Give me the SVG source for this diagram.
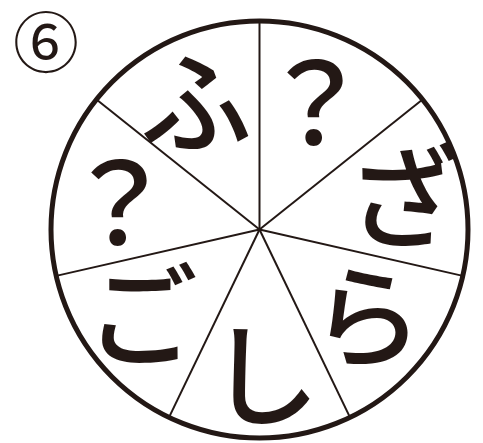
<svg xmlns="http://www.w3.org/2000/svg" width="483" height="443" viewBox="0 0 483 443">
<style>
.k{font-family:"Noto Sans CJK JP","Noto Sans CJK SC",sans-serif;font-size:112px;font-weight:500;fill:#231815;text-anchor:middle}
.q{font-family:"Noto Sans CJK JP",sans-serif;font-size:112px;font-weight:500;fill:#231815;text-anchor:middle}
.sp line{stroke:#231815;stroke-width:2}
</style>
<rect width="483" height="443" fill="#fff"/>
<g id="label"><text x="46" y="67" style="font-family:'Noto Sans CJK JP',sans-serif;font-size:66px;fill:#231815;text-anchor:middle">⑥</text></g>
<g id="wheel"><circle cx="259.5" cy="229.5" r="208.5" fill="none" stroke="#231815" stroke-width="5"/></g>
<g id="spokes" class="sp">
<line x1="259.5" y1="229.5" x2="259.5" y2="21"/>
<line x1="259.5" y1="229.5" x2="422.5" y2="99.5"/>
<line x1="259.5" y1="229.5" x2="462.8" y2="275.9"/>
<line x1="259.5" y1="229.5" x2="350" y2="417.4"/>
<line x1="259.5" y1="229.5" x2="169" y2="417.4"/>
<line x1="259.5" y1="229.5" x2="56.2" y2="275.9"/>
<line x1="259.5" y1="229.5" x2="96.5" y2="99.5"/>
</g>
<g id="s1"><text class="k" x="196" y="145">ふ</text></g>
<g id="s2"><text class="q" x="315" y="145">？</text></g>
<g id="s3"><text class="k" x="403" y="240">ざ</text></g>
<g id="s4"><text class="k" x="367" y="359">ら</text></g>
<g id="s5"><text class="k" x="264" y="418">し</text></g>
<g id="s6"><text class="k" x="142" y="358">ご</text></g>
<g id="s7"><text class="q" x="119" y="245">？</text></g>
</svg>
